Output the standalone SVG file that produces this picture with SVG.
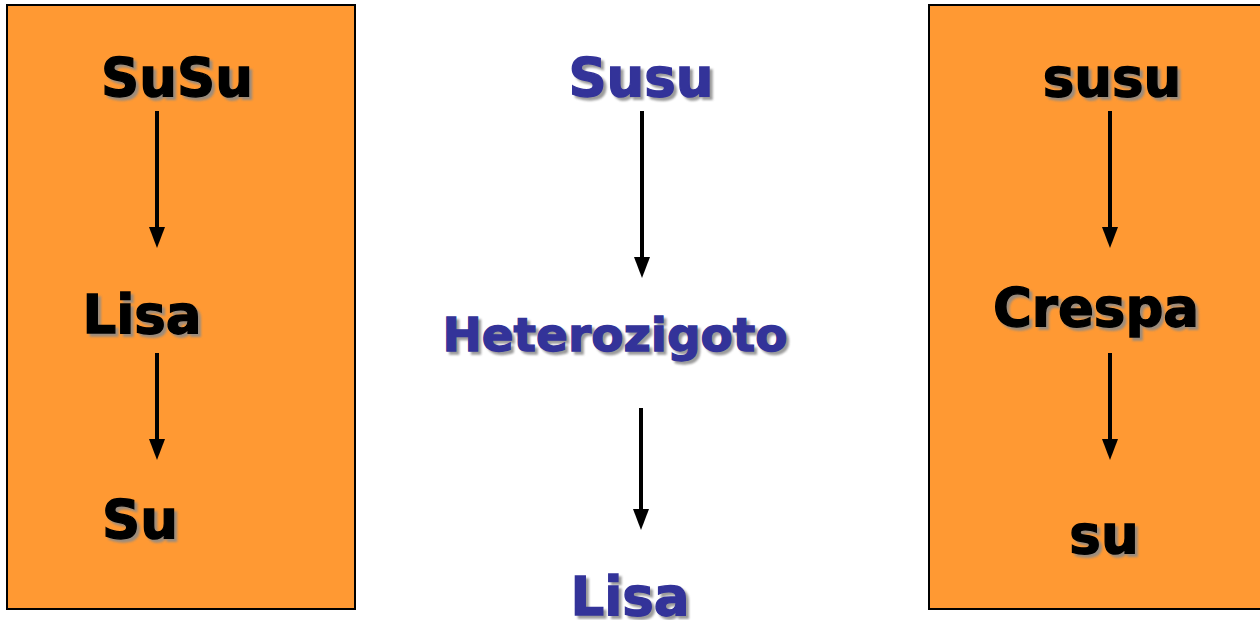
<svg xmlns="http://www.w3.org/2000/svg" width="1260" height="620" viewBox="0 0 1260 620">
<style>
.box{fill:#FF9933;stroke:#000;stroke-width:2}
.t{font-family:"DejaVu Sans","Liberation Sans",sans-serif;font-weight:bold;font-size:53px;text-anchor:middle;stroke-width:1.3}
.k{fill:#000;stroke:#000}
.b{fill:#333399;stroke:#333399}
.sh{fill:#8a8a8a;stroke:#8a8a8a;opacity:0.85;filter:url(#blur)}
.arr{stroke:#000;stroke-width:4;fill:none;marker-end:url(#ah)}
</style>
<defs>
<filter id="blur" x="-10%" y="-20%" width="120%" height="140%"><feGaussianBlur stdDeviation="0.9"/></filter>
<marker id="ah" markerUnits="userSpaceOnUse" markerWidth="21" markerHeight="16" viewBox="0 0 21 16" refX="0" refY="8" orient="auto">
<path d="M0,0 L21,8 L0,16 Z" fill="#000"/>
</marker>
</defs>
<rect x="0" y="0" width="1260" height="620" fill="#fff"/>
<g id="left-box"><rect class="box" x="7" y="5" width="348" height="604"/></g>
<g id="right-box"><rect class="box" x="929" y="5" width="340" height="604"/></g>
<g id="SuSu"><text class="t sh" x="180" y="99">SuSu</text><text class="t k" x="177" y="96">SuSu</text></g>
<g id="Lisa-left"><text class="t sh" x="145" y="336">Lisa</text><text class="t k" x="142" y="333">Lisa</text></g>
<g id="Su"><text class="t sh" x="143" y="541">Su</text><text class="t k" x="140" y="538">Su</text></g>
<g id="Susu"><text class="t sh" x="644" y="99">Susu</text><text class="t b" x="641" y="96">Susu</text></g>
<g id="Heterozigoto"><text class="t sh" x="618" y="354" style="font-size:47px">Heterozigoto</text><text class="t b" x="615" y="351" style="font-size:47px">Heterozigoto</text></g>
<g id="Lisa-center"><text class="t sh" x="633" y="618">Lisa</text><text class="t b" x="630" y="615">Lisa</text></g>
<g id="susu"><text class="t sh" x="1115" y="99">susu</text><text class="t k" x="1112" y="96">susu</text></g>
<g id="Crespa"><text class="t sh" x="1099" y="329">Crespa</text><text class="t k" x="1096" y="326">Crespa</text></g>
<g id="su"><text class="t sh" x="1107" y="556">su</text><text class="t k" x="1104" y="553">su</text></g>
<g id="connectors">
<line class="arr" x1="157" y1="111" x2="157" y2="227"/>
<line class="arr" x1="157" y1="353" x2="157" y2="439"/>
<line class="arr" x1="642" y1="111" x2="642" y2="257"/>
<line class="arr" x1="641" y1="408" x2="641" y2="509"/>
<line class="arr" x1="1110" y1="111" x2="1110" y2="227"/>
<line class="arr" x1="1110" y1="353" x2="1110" y2="439"/>
</g>
</svg>
